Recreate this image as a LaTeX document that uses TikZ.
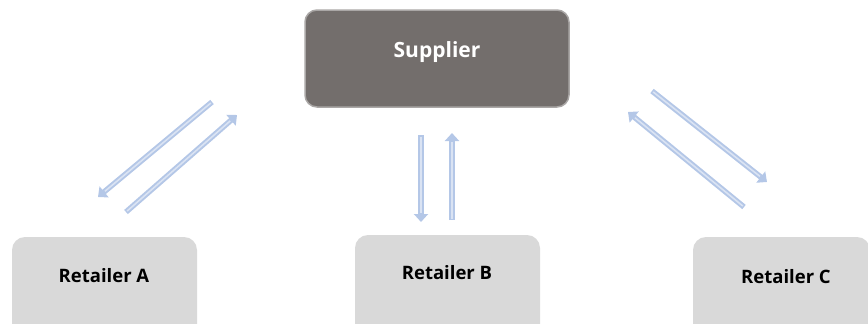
\documentclass[tikz,border=0pt]{standalone}
\usepackage{fontspec}
\setmainfont{Open Sans}
\usetikzlibrary{arrows.meta}
\definecolor{supfill}{RGB}{115,110,108}
\definecolor{supline}{RGB}{170,167,166}
\definecolor{retfill}{RGB}{217,217,217}
\definecolor{arrowblue}{RGB}{180,199,231}
\definecolor{arrowinner}{RGB}{218,227,243}
\tikzset{
  supbox/.style={draw=supline, line width=1.5pt, fill=supfill, rounded corners=12pt},
  retbox/.style={fill=retfill, rounded corners=13pt},
  suptext/.style={text=white, font=\bfseries\fontsize{21}{24}\selectfont},
  rettext/.style={text=black, font=\bfseries\fontsize{18.5}{22}\selectfont},
  flow/.style={line width=5.5pt, color=arrowblue, -{Triangle[width=14pt,length=8pt]}},
  flowinner/.style={line width=1.6pt, color=arrowinner, shorten >=9pt, shorten <=1.5pt},
}
\begin{document}
\begin{tikzpicture}[x=1pt,y=-1pt]
\useasboundingbox (0,0) rectangle (868,324);
\clip (0,0) rectangle (868,324);
% boxes
\draw[supbox] (305,10) rectangle (569,107);
\node[suptext] (sup) at (437,52) {Supplier};
\fill[retbox] (12,237) rectangle (197,345);
\node[rettext] (ra) at (104,276) {Retailer A};
\fill[retbox] (355,235) rectangle (540,345);
\node[rettext] (rb) at (447,273) {Retailer B};
\fill[retbox] (693,237) rectangle (870,345);
\node[rettext] (rc) at (786,277) {Retailer C};
% arrow endpoints
\coordinate (a1s) at (212,102); \coordinate (a1e) at (98,197);
\coordinate (a2s) at (126,212); \coordinate (a2e) at (237,115);
\coordinate (b1s) at (421,135); \coordinate (b1e) at (421,222);
\coordinate (b2s) at (452,220); \coordinate (b2e) at (452,133);
\coordinate (c1s) at (652,91);  \coordinate (c1e) at (767,182);
\coordinate (c2s) at (744,207); \coordinate (c2e) at (628,112);
\foreach \s/\e in {a1s/a1e,a2s/a2e,b1s/b1e,b2s/b2e,c1s/c1e,c2s/c2e}{
  \draw[flow] (\s) -- (\e);
  \draw[flowinner] (\s) -- (\e);
}
\end{tikzpicture}
\end{document}
